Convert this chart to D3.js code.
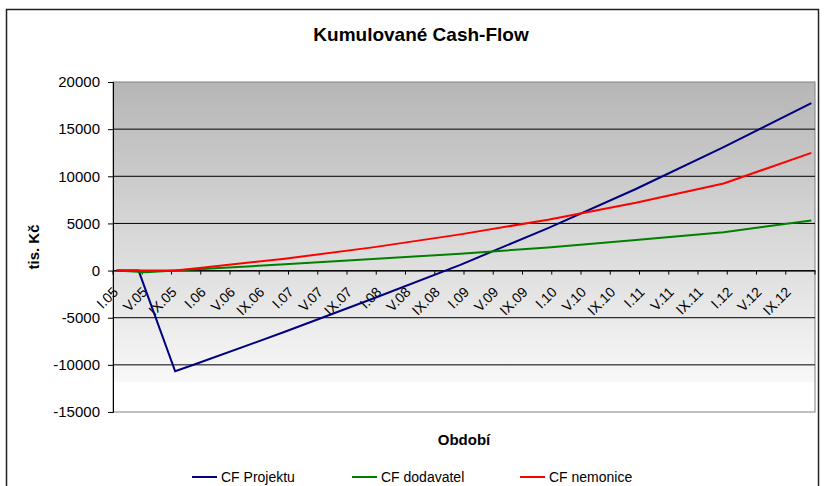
<!DOCTYPE html>
<html>
<head>
<meta charset="utf-8">
<script src="https://cdn.jsdelivr.net/npm/d3@7"></script>
<style>
  body { margin: 0; background: #fff; }
  svg { font-family: "Liberation Sans", Arial, sans-serif; }
  .title { font-size: 19px; font-weight: bold; }
  .label { font-size: 15px; font-weight: bold; }
  .axis text { font-size: 15px; fill: #000; }
  .xaxis text { font-size: 14px; }
  .legend text { font-size: 14px; }
  .series { fill: none; stroke-width: 2; }
</style>
</head>
<body>
<svg id="chart" width="826" height="486"></svg>
<script>
// months I..XII for years 05..12, labelled every fourth month
const monthNames = ['I', 'II', 'III', 'IV', 'V', 'VI', 'VII', 'VIII', 'IX', 'X', 'XI', 'XII'];
const years = ['05', '06', '07', '08', '09', '10', '11', '12'];
const tickLabels = [
  'I.05', 'V.05', 'IX.05', 'I.06', 'V.06', 'IX.06', 'I.07', 'V.07', 'IX.07',
  'I.08', 'V.08', 'IX.08', 'I.09', 'V.09', 'IX.09', 'I.10', 'V.10', 'IX.10',
  'I.11', 'V.11', 'IX.11', 'I.12', 'V.12', 'IX.12'
];
const yTicks = [20000, 15000, 10000, 5000, 0, -5000, -10000, -15000];

// series vertices (month where the slope changes, value in tis. Kč)
const projektAt = ['I.05', 'IV.05', 'IX.05', 'XII.05', 'XII.06', 'XII.07', 'XII.08', 'XII.09', 'XII.10', 'XII.11', 'XII.12'];
const projektValues = [0, 0, -10680, -9855, -6495, -2991, 609, 4509, 8649, 13089, 17769];

const dodavatelAt = ['I.05', 'V.05', 'IX.05', 'XII.05', 'XII.06', 'XII.07', 'XII.08', 'XII.09', 'XII.10', 'XII.11', 'XII.12'];
const dodavatelValues = [0, -170, 0, 135, 675, 1215, 1791, 2451, 3231, 4071, 5307];

const nemoniceAt = ['I.05', 'IX.05', 'XII.05', 'XII.06', 'XII.07', 'XII.08', 'XII.09', 'XII.10', 'XII.11', 'XII.12'];
const nemoniceValues = [0, 0, 240, 1260, 2460, 3840, 5400, 7200, 9240, 12480];

const seriesNames = ['CF Projektu', 'CF dodavatel', 'CF nemonice'];
const seriesColors = ['#000080', '#008000', '#ff0000'];

const categories = [];
years.forEach(yr => monthNames.forEach(m => categories.push(`${m}.${yr}`)));

const svg = d3.select('#chart');

const plotLeft = 113, plotRight = 815, plotTop = 82, plotBottom = 412;

// chart area border
svg.append('rect')
  .attr('x', 6.5).attr('y', 9.5)
  .attr('width', 812).attr('height', 500)
  .attr('fill', '#fff')
  .attr('stroke', '#222')
  .attr('stroke-width', 1.5);

const xScale = d3.scaleBand()
  .domain(categories)
  .range([plotLeft, plotRight]);
const bw = xScale.bandwidth();
const xPos = (c) => xScale(c) + bw / 2;

const yScale = d3.scaleLinear()
  .domain([-15000, 20000])
  .range([plotBottom, plotTop]);

// plot background gradient
const grad = svg.append('defs').append('linearGradient')
  .attr('id', 'bg')
  .attr('x1', 0).attr('y1', 0).attr('x2', 0).attr('y2', 1);
grad.append('stop').attr('offset', '0%').attr('stop-color', '#b6b6b6');
grad.append('stop').attr('offset', '91%').attr('stop-color', '#f8f8f8');
grad.append('stop').attr('offset', '91%').attr('stop-color', '#ffffff');
grad.append('stop').attr('offset', '100%').attr('stop-color', '#ffffff');

svg.append('rect')
  .attr('x', plotLeft).attr('y', plotTop)
  .attr('width', plotRight - plotLeft).attr('height', plotBottom - plotTop)
  .attr('fill', 'url(#bg)')
  .attr('stroke', '#808080');

// horizontal grid lines
svg.append('g')
  .attr('class', 'grid')
  .selectAll('line')
  .data(yTicks.filter(t => t !== 20000 && t !== -15000))
  .enter()
  .append('line')
  .attr('x1', plotLeft).attr('x2', plotRight)
  .attr('y1', d => yScale(d)).attr('y2', d => yScale(d))
  .attr('stroke', '#000');

// y axis
const yAxis = svg.append('g')
  .attr('class', 'axis')
  .attr('transform', `translate(${plotLeft}, 0)`)
  .call(d3.axisLeft(yScale).tickValues(yTicks).tickSize(5).tickPadding(8).tickFormat(d => String(d)));
yAxis.select('.domain').attr('stroke', '#000');

// x axis at zero
const xAxis = svg.append('g')
  .attr('class', 'axis xaxis')
  .attr('transform', `translate(0, ${yScale(0)})`)
  .call(d3.axisBottom(xScale).tickValues(tickLabels).tickSize(4).tickSizeOuter(0));
xAxis.select('.domain').attr('stroke', '#000');
xAxis.selectAll('.tick line')
  .attr('x1', -bw / 2).attr('x2', -bw / 2);
xAxis.append('line')
  .attr('x1', plotRight).attr('x2', plotRight)
  .attr('y1', 0).attr('y2', 4)
  .attr('stroke', '#000');
xAxis.selectAll('.tick text')
  .attr('x', 0).attr('y', 0).attr('dy', '0.35em')
  .attr('text-anchor', 'end')
  .attr('transform', 'translate(-1, 19) rotate(-45)');

// lines
const line = d3.line()
  .x(d => xPos(d[0]))
  .y(d => yScale(d[1]));

const seriesData = [
  projektAt.map((c, i) => [c, projektValues[i]]),
  dodavatelAt.map((c, i) => [c, dodavatelValues[i]]),
  nemoniceAt.map((c, i) => [c, nemoniceValues[i]])
];

// later series are drawn on top
seriesData.forEach((d, i) => {
  svg.append('path')
    .attr('class', 'series')
    .attr('d', line(d))
    .attr('stroke', seriesColors[i]);
});

// titles
svg.append('text')
  .attr('class', 'title')
  .attr('x', 421)
  .attr('y', 41)
  .attr('text-anchor', 'middle')
  .text('Kumulované Cash-Flow');

svg.append('text')
  .attr('class', 'label')
  .attr('transform', `translate(39, ${(plotTop + plotBottom) / 2}) rotate(-90)`)
  .attr('text-anchor', 'middle')
  .text('tis. Kč');

svg.append('text')
  .attr('class', 'label')
  .attr('x', 464)
  .attr('y', 445)
  .attr('text-anchor', 'middle')
  .text('Období');

// legend
const legendX = [192, 352, 520];
const legend = svg.append('g').attr('class', 'legend');
seriesNames.forEach((name, i) => {
  legend.append('line')
    .attr('x1', legendX[i]).attr('x2', legendX[i] + 25)
    .attr('y1', 477).attr('y2', 477)
    .attr('stroke', seriesColors[i])
    .attr('stroke-width', 2);
  legend.append('text')
    .attr('x', legendX[i] + 29)
    .attr('y', 482)
    .text(name);
});
</script>
</body>
</html>
